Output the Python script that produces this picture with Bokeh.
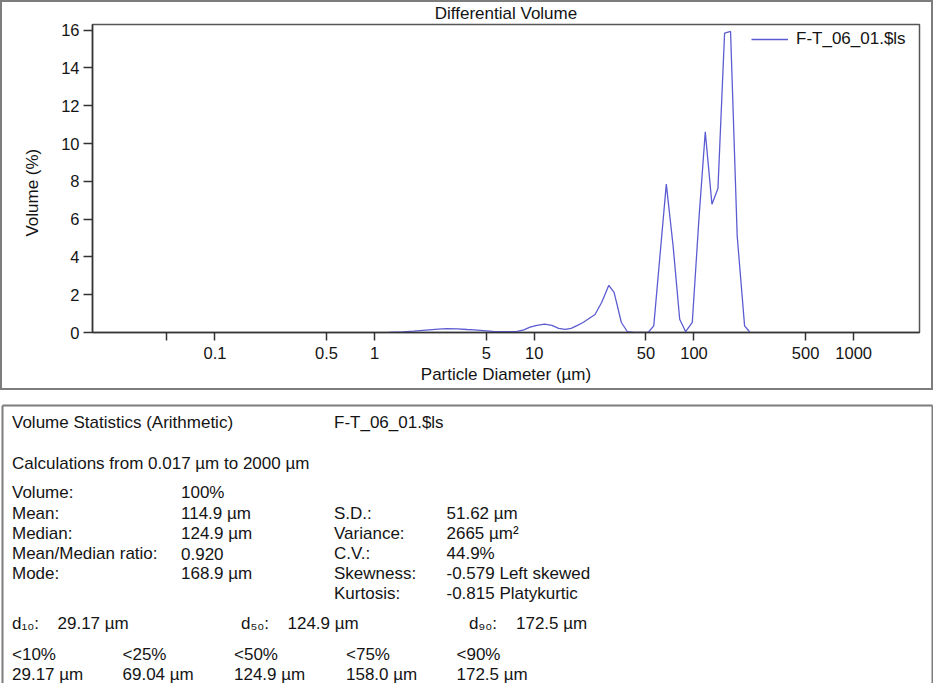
import math
from bokeh.plotting import figure
from bokeh.models import Range1d, FixedTicker, ColumnDataSource, Legend, LegendItem
from bokeh.layouts import column
from bokeh.core.properties import value
from bokeh.embed import file_html
from bokeh.resources import INLINE

# ---------------- data ----------------
diameter_um = [1.23, 1.5, 1.75, 2.1, 2.5, 2.83, 3.3, 3.8, 4.2, 4.8,
               5.5, 6.5, 7.8, 8.6, 9.4, 10.4, 11.6, 12.9, 14.2, 15.6,
               17.0, 18.5, 20.2, 24.0, 26.4, 29.3, 31.6, 35.1, 38.3, 42.0,
               46.0, 51.6, 56.0, 67.1, 74.0, 81.4, 88.7, 97.6, 107.4, 117.7,
               129.6, 141.3, 155.5, 169.5, 186.5, 207.5, 222.9]
volume_pct = [0.0, 0.03, 0.07, 0.13, 0.18, 0.20, 0.19, 0.16, 0.14, 0.10,
              0.06, 0.04, 0.06, 0.14, 0.28, 0.38, 0.44, 0.38, 0.22, 0.16,
              0.22, 0.36, 0.53, 0.95, 1.59, 2.50, 2.12, 0.53, 0.04, 0.0,
              0.0, 0.0, 0.35, 7.85, 4.59, 0.70, 0.04, 0.53, 6.0, 10.62,
              6.79, 7.62, 15.84, 15.93, 5.12, 0.35, 0.04]
series_name = "F-T_06_01.$ls"

x_ticks = [0.05, 0.1, 0.5, 1, 5, 10, 50, 100, 500, 1000]
x_tick_labels = ["", "0.1", "0.5", "1", "5", "10", "50", "100", "500", "1000"]
y_ticks = [0, 2, 4, 6, 8, 10, 12, 14, 16]

stat_labels = ["Volume:", "Mean:", "Median:", "Mean/Median ratio:", "Mode:"]
stat_values = ["100%", "114.9 \u00b5m", "124.9 \u00b5m", "0.920", "168.9 \u00b5m"]
moment_labels = ["S.D.:", "Variance:", "C.V.:", "Skewness:", "Kurtosis:"]
moment_values = ["51.62 \u00b5m", "2665 \u00b5m\u00b2", "44.9%", "-0.579 Left skewed", "-0.815 Platykurtic"]
d_labels = ["d\u2081\u2080:", "d\u2085\u2080:", "d\u2089\u2080:"]
d_values = ["29.17 \u00b5m", "124.9 \u00b5m", "172.5 \u00b5m"]
pct_labels = ["<10%", "<25%", "<50%", "<75%", "<90%"]
pct_values = ["29.17 \u00b5m", "69.04 \u00b5m", "124.9 \u00b5m", "158.0 \u00b5m", "172.5 \u00b5m"]

FONT = "Liberation Sans"
TXT = "#141414"
LINE = "#5c5cd2"
BOX = "#7d7d7d"

# ---------------- chart ----------------
FL, FR, FT, FB = 100, 927, 32, 340       # frame edges (page px)
LX0, LX1 = -1.767, 3.4125
YMAX = 16.3

pA = figure(width=933, height=390, x_axis_type="log",
            x_range=Range1d(10 ** LX0, 10 ** LX1), y_range=Range1d(0, YMAX),
            output_backend="svg", toolbar_location=None, title="Differential Volume",
            min_border_left=FL - 8, min_border_right=941 - FR,
            min_border_top=FT - 8, min_border_bottom=398 - FB)
if hasattr(pA, "frame_align"):
    pA.frame_align = False
pA.border_fill_color = None
pA.background_fill_color = None
pA.outline_line_color = "#555555"
pA.outline_line_width = 1.5
pA.grid.visible = False
pA.styles = {"outline": f"2px solid {BOX}", "outline-offset": "-2px"}

pA.title.align = "center"
pA.title.text_font = FONT
pA.title.text_font_size = "17px"
pA.title.text_font_style = "normal"
pA.title.text_color = TXT
pA.title.standoff = 3
pA.title.offset = -4.5

src = ColumnDataSource(data=dict(d=diameter_um, v=volume_pct))
r = pA.line("d", "v", source=src, line_color=LINE, line_width=1.3)

for ax in (pA.xaxis[0], pA.yaxis[0]):
    ax.axis_line_color = "#333333"
    ax.axis_line_width = 1.5
    ax.major_tick_line_color = "#333333"
    ax.major_tick_line_width = 1.5
    ax.major_tick_in = 0
    ax.minor_tick_line_color = None
    ax.major_label_text_font = FONT
    ax.major_label_text_font_size = "16.5px"
    ax.major_label_text_color = TXT
    ax.axis_label_text_font = FONT
    ax.axis_label_text_font_size = "17px"
    ax.axis_label_text_font_style = "normal"
    ax.axis_label_text_color = TXT

pA.xaxis.ticker = FixedTicker(ticks=x_ticks, minor_ticks=[])
pA.xaxis.major_label_overrides = {t: l for t, l in zip(x_ticks, x_tick_labels)}
pA.xaxis.major_tick_out = 8
pA.xaxis.major_label_standoff = 6
pA.xaxis.axis_label = "Particle Diameter (\u00b5m)"
pA.xaxis.axis_label_standoff = 3

pA.yaxis.ticker = FixedTicker(ticks=y_ticks, minor_ticks=[])
pA.yaxis.major_tick_out = 9
pA.yaxis.major_label_standoff = 4
# trailing no-break spaces move the centred label down, as in the original
pA.yaxis.axis_label = "Volume (%)" + "\u00a0" * 6
pA.yaxis.axis_label_standoff = 16

legend = Legend(items=[LegendItem(label=series_name, renderers=[r])], location="top_right",
                glyph_width=37, glyph_height=20, label_standoff=8, label_width=118,
                label_height=20, padding=4, margin=5, spacing=0,
                border_line_color=None, background_fill_alpha=0,
                label_text_font=FONT, label_text_font_size="17px", label_text_color=TXT)
pA.add_layout(legend)

# ---------------- statistics panel ----------------
pB = figure(width=933, height=293, x_range=Range1d(8, 941), y_range=Range1d(691, 398),
            x_axis_type=None, y_axis_type=None, output_backend="svg",
            toolbar_location=None, title=None, min_border=0)
if hasattr(pB, "frame_align"):
    pB.frame_align = False
pB.outline_line_color = None
pB.border_fill_color = "white"
pB.background_fill_color = "white"

pB.segment(x0=[10, 10, 940], y0=[413, 413, 413], x1=[940, 10, 940], y1=[413, 700, 700],
           line_color=BOX, line_width=2)

xs, ys, ts = [], [], []
def put(x, y, t):
    xs.append(x); ys.append(y); ts.append(t)

put(19.5, 430, "Volume Statistics (Arithmetic)")
put(341.5, 430, series_name)
put(19.5, 470.5, "Calculations from 0.017 \u00b5m to 2000 \u00b5m")
rows1 = [500, 520.5, 540.5, 561, 581]
for y, l, v in zip(rows1, stat_labels, stat_values):
    put(19.5, y, l)
    put(188.5, y, v)
rows2 = [520.5, 540.5, 561, 581, 601]
for y, l, v in zip(rows2, moment_labels, moment_values):
    put(341.5, y, l)
    put(454, y, v)
for xl, xv, l, v in zip([19.5, 248.5, 476.5], [65, 295, 523.5], d_labels, d_values):
    put(xl, 631, l)
    put(xv, 631, v)
for x, l, v in zip([19.5, 130, 241.5, 353.5, 464], pct_labels, pct_values):
    put(x, 662, l)
    put(x, 681.5, v)

tsrc = ColumnDataSource(data=dict(x=xs, y=ys, t=ts))
pB.text("x", "y", text="t", source=tsrc, text_font=value(FONT), text_font_size="17px",
        text_baseline="middle", text_align="left", text_color=TXT)

layout = column(pA, pB, spacing=0)
open("out.html", "w").write(file_html(layout, INLINE))
